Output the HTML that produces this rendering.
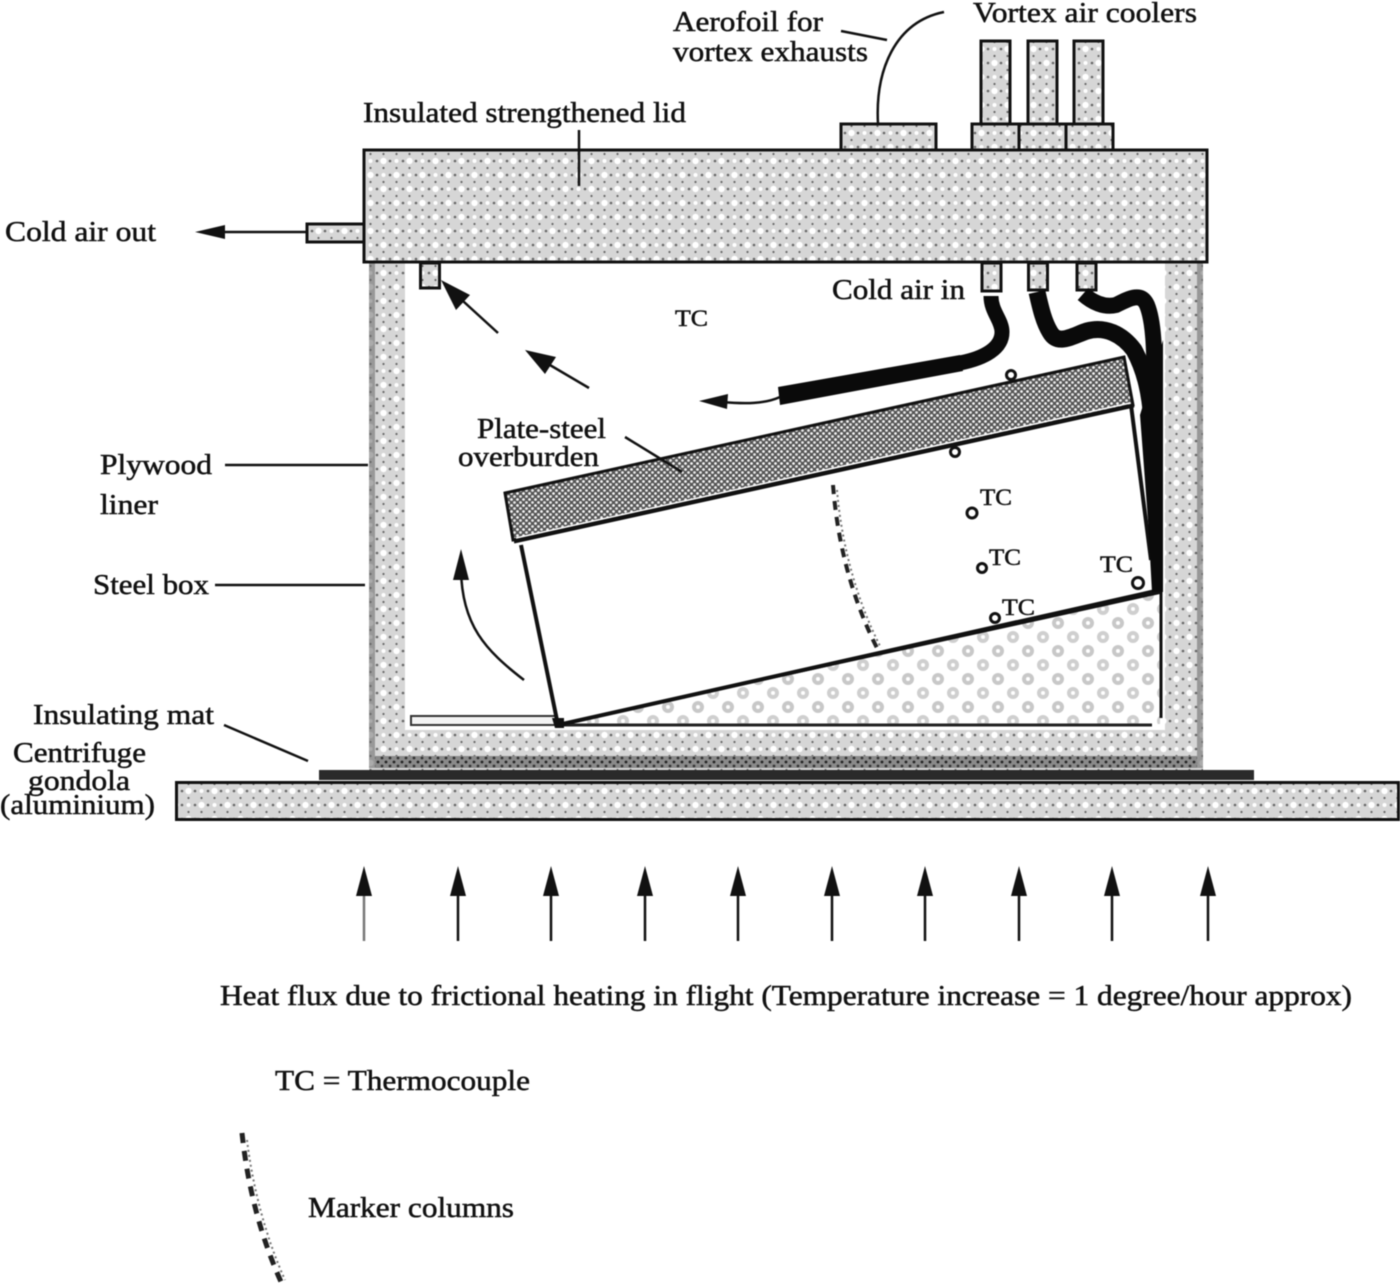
<!DOCTYPE html>
<html><head><meta charset="utf-8"><style>
html,body{margin:0;padding:0;background:#fff}
svg{display:block;filter:blur(.45px)}
text{font-family:"Liberation Serif",serif;fill:#111;font-size:29px;stroke:#111;stroke-width:.5px}
</style></head><body>
<svg width="1400" height="1284" viewBox="0 0 1400 1284" xmlns="http://www.w3.org/2000/svg">
<defs>
<pattern id="d" width="26" height="28" patternUnits="userSpaceOnUse">
<rect width="26" height="28" fill="#d6d6d6"/>
<g fill="#fff"><circle cx="6.500" cy="7" r="3.200"/><circle cx="19.500" cy="21" r="3.200"/><circle cx="19.500" cy="7" r="2"/><circle cx="6.500" cy="21" r="2"/></g>
<g fill="#666"><circle cx="13" cy="7" r="1.300"/><circle cx="0" cy="7" r="1.300"/><circle cx="26" cy="7" r="1.300"/><circle cx="13" cy="21" r="1.300"/><circle cx="0" cy="21" r="1.300"/><circle cx="26" cy="21" r="1.300"/><circle cx="6.500" cy="14" r="1.100"/><circle cx="19.500" cy="14" r="1.100"/><circle cx="6.500" cy="0" r="1.100"/><circle cx="19.500" cy="0" r="1.100"/><circle cx="6.500" cy="28" r="1.100"/><circle cx="19.500" cy="28" r="1.100"/></g>
</pattern>
<pattern id="w" width="30" height="28" patternUnits="userSpaceOnUse">
<rect width="30" height="28" fill="#fff"/>
<circle cx="8" cy="7" r="6" fill="#c8c8c8"/><circle cx="8" cy="7" r="2" fill="#fff"/>
<circle cx="23" cy="21" r="6" fill="#cfcfcf"/><circle cx="23" cy="21" r="2" fill="#fff"/>
</pattern>
<pattern id="o" width="6" height="6" patternUnits="userSpaceOnUse">
<rect width="6" height="6" fill="#555"/><circle cx="1.500" cy="1.500" r="1.400" fill="#f4f4f4"/><circle cx="4.500" cy="4.500" r="1.400" fill="#e8e8e8"/>
</pattern>
<pattern id="b" width="8" height="8" patternUnits="userSpaceOnUse">
<rect width="8" height="8" fill="#8a8a8a"/><circle cx="2" cy="2" r="1.400" fill="#222"/><circle cx="6" cy="6" r="1.400" fill="#333"/>
</pattern>
</defs>

<!-- walls -->
<path d="M369,262H1203V770H369Z M405,262V730H1165V262Z" fill="url(#d)" fill-rule="evenodd"/>
<rect x="369" y="262" width="6" height="506" fill="#666" opacity=".55"/>
<rect x="1197" y="262" width="6" height="506" fill="#666" opacity=".55"/>
<rect x="375" y="756" width="822" height="12" fill="url(#b)"/>

<!-- mat + gondola -->
<rect x="319" y="770" width="935" height="10" fill="#2a2a2a"/>
<rect x="176.500" y="782.500" width="1222" height="37" fill="url(#d)" stroke="#111" stroke-width="3"/>

<!-- lid and attachments -->
<rect x="364" y="150" width="843" height="112" fill="url(#d)" stroke="#111" stroke-width="3"/>
<rect x="307" y="224" width="57" height="18" fill="url(#d)" stroke="#111" stroke-width="3"/>
<rect x="420.500" y="263" width="19" height="25" fill="url(#d)" stroke="#111" stroke-width="3"/>
<rect x="841" y="124" width="95" height="26" fill="url(#d)" stroke="#111" stroke-width="3"/>
<rect x="972" y="124" width="47" height="26" fill="url(#d)" stroke="#111" stroke-width="3"/>
<rect x="1019" y="124" width="47" height="26" fill="url(#d)" stroke="#111" stroke-width="3"/>
<rect x="1066" y="124" width="47" height="26" fill="url(#d)" stroke="#111" stroke-width="3"/>
<rect x="981" y="41" width="29" height="83" fill="url(#d)" stroke="#111" stroke-width="3"/>
<rect x="1028" y="41" width="29" height="83" fill="url(#d)" stroke="#111" stroke-width="3"/>
<rect x="1074" y="41" width="29" height="83" fill="url(#d)" stroke="#111" stroke-width="3"/>
<rect x="982" y="263" width="19" height="28" fill="url(#d)" stroke="#111" stroke-width="3"/>
<rect x="1028.500" y="263" width="19" height="27" fill="url(#d)" stroke="#111" stroke-width="3"/>
<rect x="1077" y="263" width="19" height="27" fill="url(#d)" stroke="#111" stroke-width="3"/>

<!-- wedge and slab -->
<polygon points="558,725 1160,590 1160,724 558,724" fill="url(#w)"/>
<rect x="411" y="716" width="146" height="9" fill="#f4f4f4" stroke="#333" stroke-width="2"/>
<line x1="558" y1="725" x2="1152" y2="725" stroke="#222" stroke-width="3"/>
<line x1="1161" y1="590" x2="1161" y2="718" stroke="#111" stroke-width="3"/>

<!-- tilted block -->
<polygon points="520,543 558,725 1160,590 1136,408" fill="#fff"/>
<path d="M521,545L558,725L1160,590M1131,405L1151,560" fill="none" stroke="#111" stroke-width="4"/>
<polygon points="558,725 1160,590 1160,594 575,722" fill="#111"/>
<path d="M552,718h12v10h-9z" fill="#111"/>
<polygon points="505,493 1124,357 1133,405 513,540" fill="url(#o)" stroke="#111" stroke-width="3"/>
<line x1="514" y1="542" x2="1134" y2="406" stroke="#111" stroke-width="3"/>
<path d="M516,538L1130,403" stroke="#fff" stroke-width="1.500" fill="none"/>

<!-- black hoses -->
<path d="M991,296C991,312 1002,320 1002,332C1002,348 985,358 960,363" fill="none" stroke="#0a0a0a" stroke-width="15"/>
<polygon points="778,387 960,355 963,371 780,405" fill="#0a0a0a"/>
<path d="M1037,292C1041,310 1044,322 1050,332C1058,346 1072,336 1087,331C1105,326 1122,334 1134,350C1146,372 1150,395 1152,420" fill="none" stroke="#0a0a0a" stroke-width="17"/>
<path d="M1083,294C1092,302 1104,308 1116,305C1130,298 1141,292 1147,305C1153,320 1155,340 1155,420" fill="none" stroke="#0a0a0a" stroke-width="16"/>
<polygon points="1140,415 1163,340 1163,592 1152,592 1148,520" fill="#0a0a0a"/>

<!-- marker curve -->
<path d="M833,485C838,550 855,605 878,650" fill="none" stroke="#222" stroke-width="4" stroke-dasharray="9 7"/>
<path d="M837,490C842,550 859,605 881,648" fill="none" stroke="#777" stroke-width="2" stroke-dasharray="2 3"/>
<path d="M242,1133C248,1190 262,1240 282,1284" fill="none" stroke="#222" stroke-width="5" stroke-dasharray="10 8"/>
<path d="M247,1140C253,1190 267,1240 285,1280" fill="none" stroke="#777" stroke-width="2" stroke-dasharray="2 3"/>

<!-- thermocouples -->
<g fill="#fff" stroke="#111" stroke-width="3">
<circle cx="1011" cy="375" r="4.500"/><circle cx="955" cy="452" r="4.500"/><circle cx="972" cy="513" r="5"/>
<circle cx="982" cy="568" r="4.500"/><circle cx="995" cy="618" r="4.500"/><circle cx="1138" cy="583" r="5.500"/>
</g>

<!-- leaders -->
<g fill="none" stroke="#111" stroke-width="2.500">
<path d="M878,124C875,70 895,22 944,12"/>
<path d="M841,31L887,40"/>
<path d="M225,465H368"/>
<path d="M215,585H365"/>
<path d="M224,725L308,761"/>
<path d="M625,437L682,472"/>
<path d="M579,130V186"/>
</g>

<!-- flow arrows -->
<g fill="none" stroke="#111" stroke-width="2.500">
<path d="M307,232H215"/>
<path d="M498,333L452,291"/>
<path d="M589,388L538,358"/>
<path d="M780,397C765,404 745,404 722,402"/>
<path d="M524,680C485,650 462,625 461,570"/>
</g>
<g fill="#111">
<polygon points="195,232 225,225 225,239"/>
<polygon points="441,280 470,295 456,310"/>
<polygon points="525,350 556,357 545,374"/>
<polygon points="699,401 728,394 727,409"/>
<polygon points="461,549 469,580 453,580"/>
</g>

<!-- heat arrows -->
<g stroke="#111" stroke-width="2.500">
<line x1="364" y1="890" x2="364" y2="941" stroke="#777"/><line x1="458" y1="890" x2="458" y2="941"/><line x1="551" y1="890" x2="551" y2="941"/><line x1="645" y1="890" x2="645" y2="941"/><line x1="738" y1="890" x2="738" y2="941"/><line x1="832" y1="890" x2="832" y2="941"/><line x1="925" y1="890" x2="925" y2="941"/><line x1="1019" y1="890" x2="1019" y2="941"/><line x1="1112" y1="890" x2="1112" y2="941"/><line x1="1208" y1="890" x2="1208" y2="941"/>
</g>
<g fill="#111">
<polygon points="364,866 372,896 356,896"/><polygon points="458,866 466,896 450,896"/><polygon points="551,866 559,896 543,896"/><polygon points="645,866 653,896 637,896"/><polygon points="738,866 746,896 730,896"/><polygon points="832,866 840,896 824,896"/><polygon points="925,866 933,896 917,896"/><polygon points="1019,866 1027,896 1011,896"/><polygon points="1112,866 1120,896 1104,896"/><polygon points="1208,866 1216,896 1200,896"/>
</g>

<!-- text -->
<text x="673" y="31" textLength="150" lengthAdjust="spacingAndGlyphs">Aerofoil for</text>
<text x="673" y="61" textLength="195" lengthAdjust="spacingAndGlyphs">vortex exhausts</text>
<text x="973" y="22" textLength="224" lengthAdjust="spacingAndGlyphs">Vortex air coolers</text>
<text x="363" y="122" textLength="323" lengthAdjust="spacingAndGlyphs">Insulated strengthened lid</text>
<text x="5" y="241" textLength="151" lengthAdjust="spacingAndGlyphs">Cold air out</text>
<text x="832" y="299" textLength="133" lengthAdjust="spacingAndGlyphs">Cold air in</text>
<text x="100" y="474" textLength="112" lengthAdjust="spacingAndGlyphs">Plywood</text>
<text x="100" y="514" textLength="58" lengthAdjust="spacingAndGlyphs">liner</text>
<text x="93" y="594" textLength="116" lengthAdjust="spacingAndGlyphs">Steel box</text>
<text x="477" y="438" textLength="129" lengthAdjust="spacingAndGlyphs">Plate-steel</text>
<text x="458" y="466" textLength="141" lengthAdjust="spacingAndGlyphs">overburden</text>
<text x="33" y="724" textLength="181" lengthAdjust="spacingAndGlyphs">Insulating mat</text>
<text x="13" y="762" textLength="133" lengthAdjust="spacingAndGlyphs">Centrifuge</text>
<text x="28" y="790" textLength="102" lengthAdjust="spacingAndGlyphs">gondola</text>
<text x="0" y="814" textLength="155" lengthAdjust="spacingAndGlyphs">(aluminium)</text>
<text x="220" y="1005" textLength="1132" lengthAdjust="spacingAndGlyphs">Heat flux due to frictional heating in flight (Temperature increase = 1 degree/hour approx)</text>
<text x="275" y="1090" textLength="255" lengthAdjust="spacingAndGlyphs">TC = Thermocouple</text>
<text x="308" y="1217" textLength="206" lengthAdjust="spacingAndGlyphs">Marker columns</text>
<text x="675" y="326" textLength="33" lengthAdjust="spacingAndGlyphs" style="font-size:23px">TC</text>
<text x="980" y="505" textLength="32" lengthAdjust="spacingAndGlyphs" style="font-size:23px">TC</text>
<text x="989" y="565" textLength="32" lengthAdjust="spacingAndGlyphs" style="font-size:23px">TC</text>
<text x="1100" y="572" textLength="33" lengthAdjust="spacingAndGlyphs" style="font-size:23px">TC</text>
<text x="1002" y="615" textLength="33" lengthAdjust="spacingAndGlyphs" style="font-size:23px">TC</text>
</svg>
</body></html>
